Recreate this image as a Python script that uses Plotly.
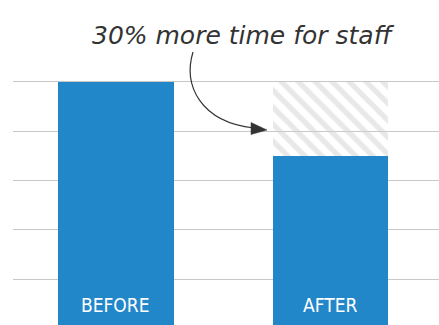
import plotly.graph_objects as go

categories = ["BEFORE", "AFTER"]
values = [100, 70]
saved = [0, 30]
grid_vals = [20, 40, 60, 80, 100]
annotation_text = "30% more time for staff"

BLUE = "#2287c9"
W, H = 439, 325
L = 13

def px(x):
    return (x - L) / (W - L)

def py(y):
    return 1 - y / H

fig = go.Figure()
fig.add_trace(go.Bar(
    x=categories, y=values, width=0.54,
    marker=dict(color=BLUE, line=dict(width=0)),
    hoverinfo="skip",
))
fig.add_trace(go.Bar(
    x=categories, y=saved, width=0.54,
    marker=dict(color="rgba(0,0,0,0)", line=dict(width=0),
                pattern=dict(shape="\\", fgcolor="#d2d2d2", bgcolor="rgba(0,0,0,0)",
                             size=12, solidity=0.45)),
    hoverinfo="skip",
))

for c in categories:
    fig.add_annotation(text=c, x=c, xref="x", y=py(305), yref="paper",
                       showarrow=False, xanchor="center", yanchor="middle",
                       font=dict(family="DejaVu Sans Condensed, sans-serif",
                                 size=19, color="white"))

# curved arrow
path = "M {} {} C {} {}, {} {}, {} {}".format(
    px(193), py(52), px(183), py(85), px(200), py(122), px(254), py(128))
fig.add_shape(type="path", path=path, xref="paper", yref="paper",
              line=dict(color="#333333", width=1.2))
head = "M {} {} L {} {} L {} {} Z".format(
    px(267), py(130), px(251), py(122.5), px(251), py(134.5))
fig.add_shape(type="path", path=head, xref="paper", yref="paper",
              line=dict(color="#333333", width=0.5), fillcolor="#333333")

fig.add_annotation(text=annotation_text, x=px(243), y=py(35), xref="paper", yref="paper",
                   showarrow=False, xanchor="center", yanchor="middle",
                   font=dict(family="DejaVu Sans", size=25, color="#333333", style="italic", weight=300))

fig.update_layout(
    width=W, height=H, margin=dict(l=L, r=0, t=0, b=0),
    paper_bgcolor="white", plot_bgcolor="white",
    barmode="stack", showlegend=False,
    xaxis=dict(range=[-0.48, 1.506], showticklabels=False, showgrid=False, zeroline=False,
               showline=False, ticks=""),
    yaxis=dict(range=[1.46, 133.2], tickvals=grid_vals, showticklabels=False,
               gridcolor="#c8c8c8", gridwidth=1, zeroline=False, showline=False, ticks=""),
)
fig.write_html("out.html")
